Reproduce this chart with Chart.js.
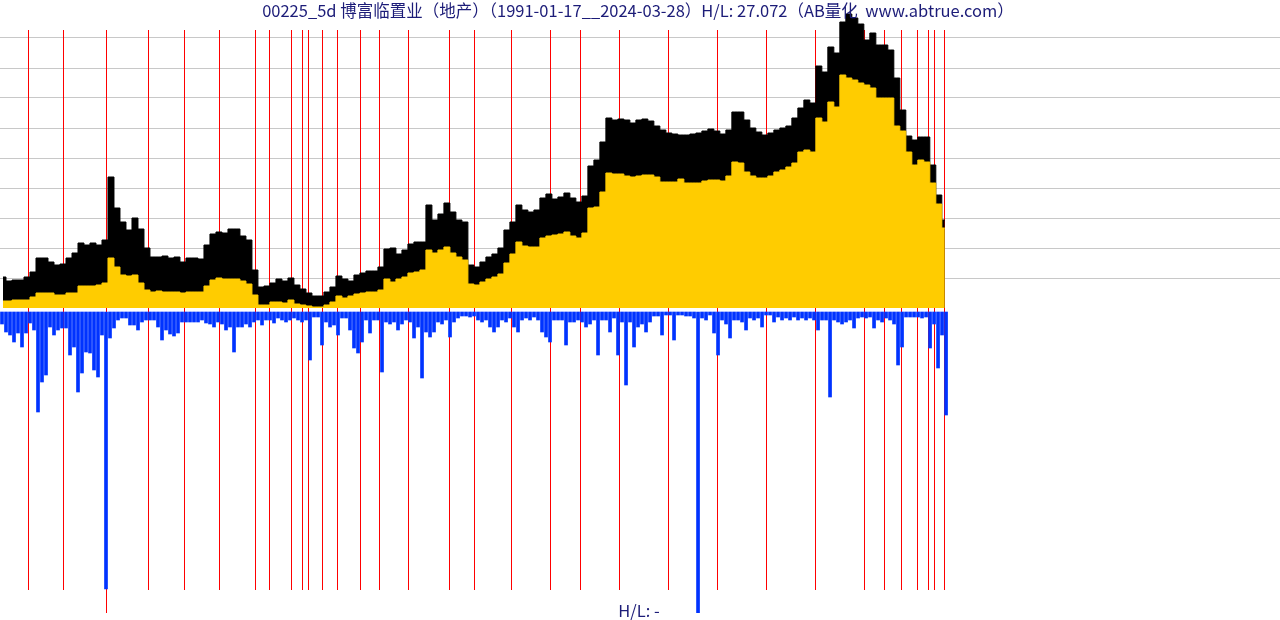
<!DOCTYPE html>
<html>
<head>
<meta charset="utf-8">
<script src="https://cdn.jsdelivr.net/npm/chart.js@4.4.1/dist/chart.umd.min.js"></script>
<style>
  html, body { margin: 0; padding: 0; background: #fff; }
  #wrap { width: 1280px; height: 620px; }
</style>
</head>
<body>
<div id="wrap"><canvas id="kline" width="1280" height="620"></canvas></div>
<script>
// 标题 / 底部文字
const titleText = '00225_5d 博富临置业（地产）（1991-01-17__2024-03-28）H/L: 27.072（AB量化  www.abtrue.com）';
const footText = 'H/L: -';

// 时间轴 (年)
const startYear = 1991.04;
const endAxisYear = 2035.87;
const priceStep = 0.2101;   // 每个价格样本约 11 周
const volStep = 0.1401;     // 每个成交量样本约 7 周

// 最高价 (黑色区域上沿)
const highs = [
  0.31,0.27,0.28,0.28,0.31,0.36,0.50,0.50,0.46,0.43,
  0.44,0.50,0.55,0.65,0.63,0.65,0.63,0.68,1.31,1.00,
  0.86,0.78,0.90,0.79,0.60,0.51,0.51,0.52,0.50,0.51,
  0.46,0.50,0.50,0.49,0.63,0.74,0.76,0.75,0.79,0.79,
  0.72,0.68,0.38,0.21,0.22,0.25,0.29,0.27,0.30,0.23,
  0.19,0.15,0.12,0.12,0.16,0.21,0.32,0.29,0.27,0.33,
  0.35,0.37,0.37,0.41,0.59,0.60,0.54,0.58,0.64,0.66,
  0.66,1.03,0.88,0.94,1.05,0.96,0.88,0.86,0.43,0.41,
  0.46,0.51,0.54,0.60,0.78,0.86,1.03,0.98,0.96,0.98,
  1.10,1.14,1.09,1.11,1.15,1.10,1.06,1.12,1.42,1.48,
  1.66,1.90,1.88,1.89,1.88,1.85,1.88,1.89,1.87,1.82,
  1.78,1.75,1.74,1.73,1.73,1.74,1.75,1.77,1.79,1.77,
  1.74,1.78,1.96,1.96,1.88,1.80,1.76,1.73,1.75,1.78,
  1.80,1.82,1.90,2.00,2.08,2.05,2.42,2.36,2.61,2.55,
  2.86,2.94,2.90,2.84,2.68,2.75,2.63,2.63,2.58,2.30,
  1.98,1.72,1.68,1.71,1.71,1.43,1.13,0.88
];

// 收盘价 (黄色区域)
const closes = [
  0.07,0.07,0.08,0.08,0.08,0.11,0.15,0.15,0.15,0.13,
  0.13,0.15,0.15,0.22,0.22,0.22,0.23,0.25,0.50,0.41,
  0.33,0.32,0.33,0.25,0.18,0.16,0.17,0.16,0.16,0.16,
  0.15,0.16,0.16,0.16,0.22,0.28,0.30,0.29,0.29,0.29,
  0.27,0.24,0.13,0.03,0.03,0.06,0.06,0.05,0.08,0.04,
  0.03,0.02,0.01,0.01,0.03,0.06,0.12,0.10,0.12,0.14,
  0.15,0.16,0.16,0.18,0.29,0.26,0.29,0.31,0.35,0.36,
  0.38,0.58,0.55,0.58,0.61,0.55,0.51,0.48,0.24,0.23,
  0.26,0.29,0.31,0.34,0.45,0.54,0.66,0.62,0.61,0.61,
  0.70,0.72,0.73,0.74,0.76,0.72,0.70,0.75,1.00,1.01,
  1.16,1.35,1.34,1.34,1.32,1.31,1.32,1.33,1.33,1.31,
  1.26,1.26,1.26,1.29,1.25,1.25,1.25,1.27,1.28,1.28,
  1.27,1.32,1.46,1.45,1.36,1.32,1.30,1.30,1.32,1.36,
  1.38,1.41,1.45,1.56,1.58,1.56,1.90,1.86,2.06,2.01,
  2.33,2.30,2.28,2.25,2.23,2.20,2.10,2.10,2.10,1.82,
  1.77,1.56,1.43,1.48,1.46,1.25,1.04,0.80
];

// 成交量 (蓝色, 向下)
const volumes = [
  12,20,23,30,21,35,21,11,18,100,
  70,63,15,23,18,16,16,43,35,80,
  61,40,41,58,65,23,277,26,16,8,
  6,6,13,13,18,10,8,8,8,15,
  28,18,22,24,21,10,10,10,10,10,
  8,11,12,15,10,12,18,15,40,15,
  15,12,15,10,8,13,8,8,11,6,
  8,10,8,6,8,10,8,48,5,5,
  33,10,15,13,23,6,6,18,36,41,
  30,8,21,8,8,60,10,12,10,18,
  12,8,10,26,15,66,20,25,20,10,
  12,8,25,10,6,4,4,5,4,8,
  10,8,15,20,15,8,10,6,15,20,
  8,6,8,5,8,20,25,30,8,8,
  8,33,10,10,8,10,15,12,8,43,
  8,8,20,6,43,10,73,10,35,15,
  12,20,10,4,4,23,3,3,28,3,
  3,4,4,6,320,6,8,3,21,43,
  8,12,26,8,8,10,18,6,8,6,
  15,3,3,10,5,8,6,8,5,8,
  6,8,6,8,18,8,8,85,8,10,
  12,10,8,16,6,5,6,5,16,8,
  10,6,8,12,53,35,5,5,5,5,
  6,5,36,12,56,23,103
];

// 红色竖线 (事件日期, 年)
const eventYears = [
  1992.02,1993.25,1994.75,1996.22,1997.48,1998.71,1999.97,2000.46,2001.23,2001.62,
  2001.83,2002.32,2002.84,2003.65,2004.31,2005.33,2006.76,2007.64,2008.94,2010.30,
  2011.35,2012.72,2014.43,2016.15,2017.87,2019.58,2021.30,2022.00,2022.59,2023.15,
  2023.54,2023.75,2024.10
];
const longEventYears = [1994.75];

const highPts = highs.map((v, i) => ({ x: startYear + (i + 0.5) * priceStep, y: v }));
const closePts = closes.map((v, i) => ({ x: startYear + (i + 0.5) * priceStep, y: v }));
const volPts = volumes.map((v, i) => ({ x: startYear + (i + 0.5) * volStep, y: v }));

const overlay = {
  id: 'overlay',
  beforeDatasetsDraw(chart) {
    const { ctx, scales: { x, y } } = chart;
    ctx.save();
    ctx.strokeStyle = '#ff0000';
    ctx.lineWidth = 1;
    eventYears.forEach(yr => {
      const px = Math.round(x.getPixelForValue(yr)) + 0.5;
      const bottom = longEventYears.includes(yr) ? -3.05 : -2.82;
      ctx.beginPath();
      ctx.moveTo(px, y.getPixelForValue(2.78));
      ctx.lineTo(px, y.getPixelForValue(bottom));
      ctx.stroke();
    });
    ctx.restore();
  },
  afterDraw(chart) {
    const ctx = chart.ctx;
    ctx.save();
    ctx.fillStyle = '#1c1c78';
    ctx.textAlign = 'center';
    ctx.textBaseline = 'middle';
    ctx.font = '16.5px "Noto Sans CJK SC", "Noto Sans", sans-serif';
    ctx.fillText(titleText, 638, 11);
    ctx.fillText(footText, 639, 611);
    ctx.restore();
  }
};

const ctx = document.getElementById('kline').getContext('2d');

const chart = new Chart(ctx, {
  type: 'line',
  data: {
    datasets: [
      {
        type: 'line',
        label: '收盘',
        data: closePts,
        stepped: 'middle',
        fill: 'origin',
        backgroundColor: '#ffcc00',
        borderColor: '#ffcc00',
        borderWidth: 1,
        pointRadius: 0,
        yAxisID: 'y',
        order: 1
      },
      {
        type: 'line',
        label: '最高',
        data: highPts,
        stepped: 'middle',
        fill: 'origin',
        backgroundColor: '#000000',
        borderColor: '#000000',
        borderWidth: 1,
        pointRadius: 0,
        yAxisID: 'y',
        order: 2
      },
      {
        type: 'bar',
        label: '成交量',
        data: volPts,
        backgroundColor: '#0033ff',
        barThickness: 3,
        yAxisID: 'yv',
        order: 3
      }
    ]
  },
  options: {
    responsive: false,
    animation: false,
    devicePixelRatio: 1,
    layout: { padding: { top: 8, bottom: 7, left: 0, right: 0 } },
    plugins: {
      legend: { display: false },
      tooltip: { enabled: false },
      title: { display: false }
    },
    scales: {
      x: {
        type: 'linear',
        min: startYear,
        max: endAxisYear,
        offset: false,
        display: false
      },
      y: {
        type: 'linear',
        position: 'left',
        min: -3.05,
        max: 3.0,
        ticks: { display: false, stepSize: 0.3, maxTicksLimit: 100 },
        grid: {
          drawTicks: false,
          color: c => (c.tick && c.tick.value > 0.25 && c.tick.value < 2.75) ? '#c8c8c8' : 'rgba(0,0,0,0)'
        },
        border: { display: false },
        afterFit(scale) { scale.width = 0; }
      },
      yv: {
        type: 'linear',
        reverse: true,
        min: -304,
        max: 301,
        display: false
      }
    }
  },
  plugins: [overlay]
});
</script>
</body>
</html>
